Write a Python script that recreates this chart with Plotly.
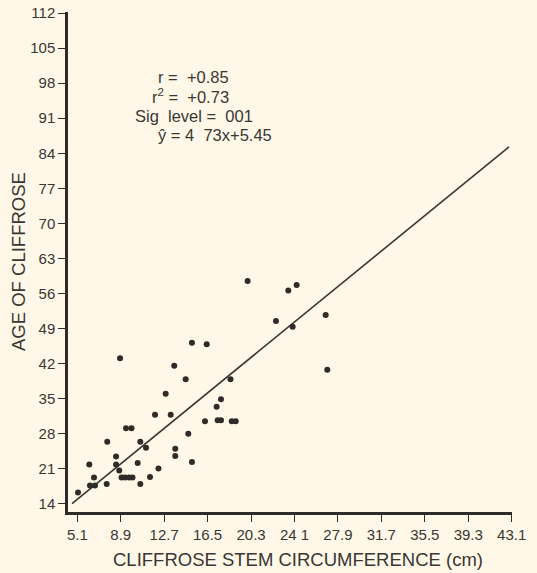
import plotly.graph_objects as go

# Data
circumference_cm = [5.16, 6.15, 6.21, 6.65, 6.56, 7.67, 7.72, 8.49, 8.49, 8.77,
                    8.84, 8.97, 9.28, 9.63, 9.93, 9.36, 9.84, 10.38, 10.61, 10.61,
                    11.11, 11.46, 11.90, 12.20, 12.83, 13.27, 13.58, 13.67, 13.67, 14.58,
                    14.81, 15.13, 15.13, 16.27, 16.42, 17.29, 17.67, 17.38, 17.67, 18.61,
                    18.96, 18.50, 20.00, 22.48, 23.56, 24.29, 23.94, 26.83, 26.97]
age = [16.3, 21.9, 17.7, 17.7, 19.3, 18.0, 26.4, 23.5, 21.9, 20.7,
       43.1, 19.3, 19.3, 19.3, 19.3, 29.1, 29.1, 22.2, 26.4, 18.0,
       25.2, 19.4, 31.8, 21.1, 36.0, 31.8, 41.6, 25.0, 23.6, 38.9,
       28.0, 46.2, 22.4, 30.5, 45.9, 33.4, 34.9, 30.7, 30.7, 30.5,
       30.5, 38.9, 58.5, 50.5, 56.6, 57.7, 49.4, 51.7, 40.8]

# Regression as printed: y = 4.73x + 5.45 (x in inches)
slope = 4.73
intercept = 5.45
cm_per_inch = 2.54
fit_x_range = [4.64, 42.87]
fit_y = [intercept + slope * x / cm_per_inch for x in fit_x_range]

x_tick_vals = [5.1, 8.9, 12.7, 16.5, 20.3, 24.1, 27.9, 31.7, 35.5, 39.3, 43.1]
x_tick_text = ["5.1", "8.9", "12.7", "16.5", "20.3", "24 1", "27.9", "31.7", "35.5", "39.3", "43.1"]
y_tick_vals = [14, 21, 28, 35, 42, 49, 56, 63, 70, 77, 84, 91, 98, 105, 112]

NB = "\u00a0"
stats_lines = ["r" + NB + "=" + NB * 2 + "+0.85",
               "r<sup>2</sup>" + NB + "=" + NB * 2 + "+0.73",
               "Sig" + NB * 2 + "level" + NB + "=" + NB * 2 + "001",
               "ŷ" + NB + "=" + NB + "4" + NB * 2 + "73x+5.45"]
stats_x_px = [156, 150, 133, 156]
stats_y_px = [77, 96, 116, 135]

BG = "#fff8e8"
INK = "#2e2b28"
TXT = "#3a3632"
FONT = "Liberation Sans, Arial, sans-serif"

W, H = 537, 573
ML, MR, MT, MB = 68, 25, 12, 61

fig = go.Figure()
fig.add_trace(go.Scatter(x=fit_x_range, y=fit_y, mode="lines",
                         line=dict(color="#3a3632", width=1.6), hoverinfo="skip"))
fig.add_trace(go.Scatter(x=circumference_cm, y=age, mode="markers",
                         marker=dict(color=INK, size=6, line=dict(width=0))))

axis_common = dict(showgrid=False, zeroline=False, showline=True, linecolor=INK,
                   ticks="outside", tickcolor=INK, ticklen=7, tickwidth=1.2,
                   automargin=False,
                   tickfont=dict(family=FONT, size=15, color=TXT))

fig.update_xaxes(range=[4.286, 43.13], tickvals=x_tick_vals, ticktext=x_tick_text,
                 linewidth=3, **axis_common)
fig.update_yaxes(range=[12.4, 112.2], tickvals=y_tick_vals, linewidth=2.5, **axis_common)

annotations = []
for txt, xp, yp in zip(stats_lines, stats_x_px, stats_y_px):
    annotations.append(dict(text=txt, xref="paper", yref="paper",
                            x=(xp - ML) / (W - ML - MR), y=1 - (yp - MT) / (H - MT - MB),
                            xanchor="left", yanchor="middle", showarrow=False,
                            font=dict(family=FONT, size=16.5, color=TXT)))
annotations.append(dict(text="AGE OF CLIFFROSE", xref="paper", yref="paper",
                        x=(18 - ML) / (W - ML - MR), y=(H - MB - 262) / (H - MT - MB),
                        textangle=-90, xanchor="center", yanchor="middle", showarrow=False,
                        font=dict(family=FONT, size=18.5, color=TXT)))
annotations.append(dict(text="CLIFFROSE STEM CIRCUMFERENCE (cm)", xref="paper", yref="paper",
                        x=(298 - ML) / (W - ML - MR), y=-(559 - (H - MB)) / (H - MT - MB),
                        xanchor="center", yanchor="middle", showarrow=False,
                        font=dict(family=FONT, size=18.5, color=TXT)))

fig.update_layout(width=W, height=H, margin=dict(l=ML, r=MR, t=MT, b=MB),
                  paper_bgcolor=BG, plot_bgcolor=BG, showlegend=False,
                  annotations=annotations)

fig.write_html("out.html",
               config={"displayModeBar": False},
               post_script="document.body.style.margin='0';"
                           "document.body.style.background='" + BG + "';"
                           "document.documentElement.style.overflow='hidden';")
